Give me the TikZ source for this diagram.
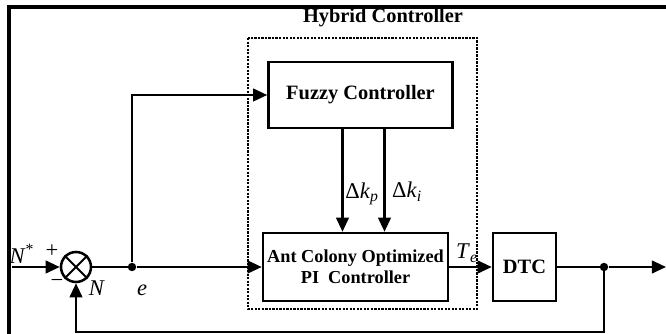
\documentclass[tikz,border=0pt]{standalone}
\usepackage{fontspec}
\setmainfont{Liberation Serif}
\usetikzlibrary{arrows.meta}
\begin{document}
\begin{tikzpicture}[x=0.025cm, y=-0.025cm] % pixel grid, y downwards
\tikzstyle{blok} = [draw, line width=1.8pt, font=\fontsize{14.5}{16}\selectfont\bfseries, align=center, inner sep=0pt] % block style
\tikzstyle{pil} = [line width=1.5pt, -{Triangle[length=10pt,width=9pt]}] % arrow style
\tikzstyle{lin} = [line width=1.5pt] % plain line
\tikzstyle{tekst} = [font=\fontsize{16}{18}\selectfont, inner sep=0pt] % labels
\tikzstyle{prik} = [circle, fill, minimum size=6pt, inner sep=0pt] % branch dot
\useasboundingbox (0,0) rectangle (666,334);

% frame
\draw[line width=2.2pt] (9,334) -- (9,7) -- (666,7);

% hybrid controller
\draw[line width=1pt, dash pattern=on 1.6pt off 0.9pt] (248,38) rectangle (477,309);
\node[font=\fontsize{14.5}{16}\selectfont\bfseries, inner sep=0pt] (titel) at (383,18) {Hybrid Controller};

\node[blok, minimum width=4.6cm, minimum height=1.65cm] (fuzzy) at (360.5,95) {Fuzzy Controller};
\node[blok, minimum width=4.625cm, minimum height=1.7cm, font=\fontsize{13}{15}\selectfont\bfseries] (ant) at (355.5,267) {Ant Colony Optimized\\PI\ \ Controller};
\node[blok, minimum width=1.575cm, minimum height=1.7cm] (dtc) at (524.5,267) {DTC};

% summing point
\node[draw, circle, line width=1.8pt, minimum size=0.75cm, inner sep=0pt] (sum) at (76,267) {};
\draw[lin] (sum.north west) -- (sum.south east) (sum.north east) -- (sum.south west);

\coordinate (inn) at (12,267);
\node[prik] (e) at (132,267) {};
\node[prik] (gren) at (604,267) {};
\coordinate (ut) at (666,267);
\coordinate (bunn) at (604,332);

% connectors
\draw[pil] (inn) -- (sum.west);
\draw[lin] (sum.east) -- (e);
\draw[pil] (e) -- (ant.west);
\draw[pil] (e) |- (fuzzy.west);
\draw[pil] ([xshift=-0.45cm]fuzzy.south) -- ([xshift=-0.45cm]fuzzy.south |- ant.north);
\draw[pil] ([xshift=0.6cm]fuzzy.south) -- ([xshift=0.6cm]fuzzy.south |- ant.north);
\draw[pil] (ant.east) -- (dtc.west);
\draw[lin] (dtc.east) -- (gren);
\draw[pil] (gren) -- (ut);
\draw[pil] (gren) -- (bunn) -| (sum.south);

% labels
\node[tekst] (nstjerne) at (22,254) {\textit{N}\textsuperscript{*}};
\node[tekst] (pluss) at (52,251) {+};
\node[tekst] (minus) at (57,283) {\textminus};
\node[tekst] (nlab) at (97,288) {\textit{N}};
\node[tekst] (elab) at (142,290) {\textit{e}};
\node[tekst] (kp) at (362,194) {Δ\textit{k}\textsubscript{\textit{p}}};
\node[tekst] (ki) at (407,192) {Δ\textit{k}\textsubscript{\textit{i}}};
\node[tekst] (te) at (467,253) {\textit{T}\textsubscript{\textit{e}}};
\end{tikzpicture}
\end{document}
